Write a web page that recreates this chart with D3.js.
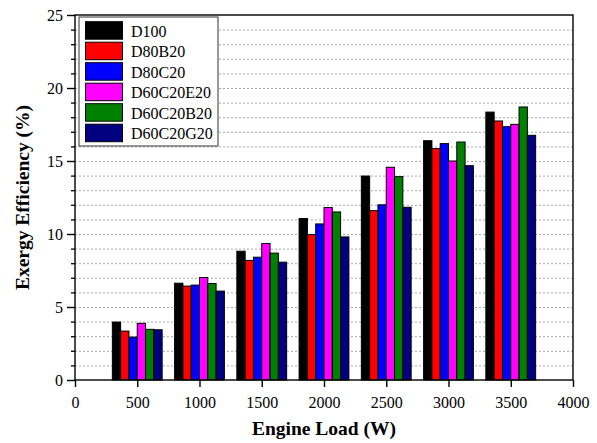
<!DOCTYPE html>
<html>
<head>
<meta charset="utf-8">
<script src="https://cdn.jsdelivr.net/npm/d3@7"></script>
<style>
  html, body { margin: 0; padding: 0; background: #fff; }
  svg { display: block; }
</style>
</head>
<body>
<svg id="chart" width="597" height="443"></svg>
<script>
// Engine loads (W) and exergy efficiency (%) per fuel blend
const loads = [500, 1000, 1500, 2000, 2500, 3000, 3500];
const blends = ["D100", "D80B20", "D80C20", "D60C20E20", "D60C20B20", "D60C20G20"];
const colors = ["#000000", "#ff0000", "#0000ff", "#ff00ff", "#008000", "#000080"];

const D100      = [3.97, 6.63, 8.82, 11.06, 13.97, 16.39, 18.35];
const D80B20    = [3.35, 6.43, 8.19, 9.96, 11.60, 15.85, 17.74];
const D80C20    = [2.94, 6.50, 8.41, 10.69, 12.00, 16.19, 17.35];
const D60C20E20 = [3.88, 7.02, 9.35, 11.81, 14.57, 15.00, 17.51];
const D60C20B20 = [3.47, 6.61, 8.69, 11.51, 13.93, 16.30, 18.70];
const D60C20G20 = [3.44, 6.09, 8.07, 9.80, 11.83, 14.68, 16.76];
const seriesValues = [D100, D80B20, D80C20, D60C20E20, D60C20B20, D60C20G20];

const xTicks = [0, 500, 1000, 1500, 2000, 2500, 3000, 3500, 4000];
const yTicks = [0, 5, 10, 15, 20, 25];
const groupWidth = 400; // W of load axis covered by each cluster

const FONT = '"Liberation Serif"';

const svg = d3.select("#chart");
const m = { left: 75, right: 24, top: 15, bottom: 63 };
const W = 597, H = 443;
const iw = W - m.left - m.right, ih = H - m.top - m.bottom;

const x = d3.scaleLinear().domain([0, 4000]).range([m.left, m.left + iw]);
const y = d3.scaleLinear().domain([0, 25]).range([m.top + ih, m.top]);
const xb = d3.scaleBand().domain(blends).range([0, x(groupWidth) - x(0)]).padding(0);

// dotted horizontal grid at every unit
svg.append("g")
  .selectAll("line")
  .data(d3.range(1, 25))
  .join("line")
  .attr("x1", m.left).attr("x2", m.left + iw)
  .attr("y1", d => y(d) + 0.5).attr("y2", d => y(d) + 0.5)
  .attr("stroke", "#a8a8a8").attr("stroke-width", 1)
  .attr("stroke-dasharray", "2,2");

// clustered bars
const groups = svg.append("g").selectAll("g")
  .data(loads)
  .join("g")
  .attr("transform", d => `translate(${x(d - groupWidth / 2)},0)`);

groups.selectAll("rect")
  .data((d, i) => blends.map((b, k) => ({ blend: b, k, v: seriesValues[k][i] })))
  .join("rect")
  .attr("x", d => xb(d.blend))
  .attr("y", d => y(d.v))
  .attr("width", xb.bandwidth())
  .attr("height", d => y(0) - y(d.v))
  .attr("fill", d => colors[d.k])
  .attr("stroke", "#000")
  .attr("stroke-width", 1);

// frame
svg.append("rect")
  .attr("x", m.left).attr("y", m.top)
  .attr("width", iw).attr("height", ih)
  .attr("fill", "none").attr("stroke", "#000").attr("stroke-width", 1.4);

// x axis
const xAxis = d3.axisBottom(x).tickValues(xTicks).tickFormat(d3.format("d")).tickSize(7).tickPadding(9.5);
const gx = svg.append("g").attr("transform", `translate(0,${m.top + ih})`).call(xAxis);
gx.select(".domain").remove();
gx.selectAll("line").attr("stroke-width", 1.4);
gx.selectAll("text").style("font-family", FONT).style("font-size", "16px");

// y axis: major and minor ticks
const yMinor = d3.axisLeft(y).tickValues(d3.range(0, 26).filter(v => v % 5)).tickSize(4).tickFormat("");
const gym = svg.append("g").attr("transform", `translate(${m.left},0)`).call(yMinor);
gym.select(".domain").remove();
gym.selectAll("line").attr("stroke-width", 1.3);

const yAxis = d3.axisLeft(y).tickValues(yTicks).tickFormat(d3.format("d")).tickSize(8).tickPadding(4);
const gy = svg.append("g").attr("transform", `translate(${m.left},0)`).call(yAxis);
gy.select(".domain").remove();
gy.selectAll("line").attr("stroke-width", 1.4);
gy.selectAll("text").style("font-family", FONT).style("font-size", "16px");

// axis titles
svg.append("text")
  .attr("x", x(2000)).attr("y", 435)
  .attr("text-anchor", "middle")
  .style("font-family", FONT).style("font-size", "19.5px").style("font-weight", "bold")
  .text("Engine Load (W)");

svg.append("text")
  .attr("transform", `translate(29,${y(12.5)}) rotate(-90)`)
  .attr("text-anchor", "middle")
  .style("font-family", FONT).style("font-size", "19.5px").style("font-weight", "bold")
  .text("Exergy Efficiency (%)");

// legend
const lg = svg.append("g").attr("transform", "translate(79,17)");
lg.append("rect")
  .attr("x", 0).attr("y", 0).attr("width", 139).attr("height", 129)
  .attr("fill", "#fff").attr("stroke", "#333").attr("stroke-width", 1);
const rowH = 20.5;
const items = lg.selectAll("g.item").data(blends).join("g")
  .attr("class", "item")
  .attr("transform", (d, i) => `translate(6.5,${4.7 + i * rowH})`);
items.append("rect")
  .attr("width", 37).attr("height", 17.5)
  .attr("fill", (d, i) => colors[i])
  .attr("stroke", "#000").attr("stroke-width", 1);
items.append("text")
  .attr("x", 45.5).attr("y", 15)
  .style("font-family", FONT).style("font-size", "16px")
  .text(d => d);
</script>
</body>
</html>
